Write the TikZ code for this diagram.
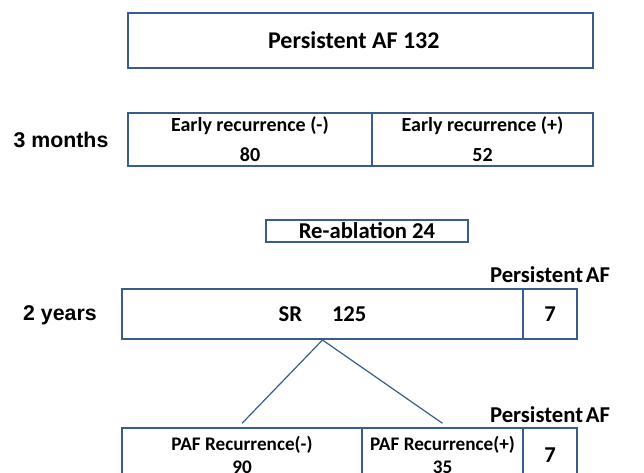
\documentclass[tikz,border=0pt]{standalone}
\usepackage{fontspec}
\setmainfont{Carlito}
\newfontfamily\arialfont{Liberation Sans}
\definecolor{boxblue}{RGB}{56,93,138}
\begin{document}
\begin{tikzpicture}[x=0.75pt,y=-0.75pt,
	  cell/.style={draw=boxblue, line width=1.5pt, inner sep=0pt, align=center},
	  big/.style={font=\bfseries\fontsize{17}{20}\selectfont},
	  small/.style={font=\bfseries\fontsize{15}{22.5}\selectfont},
	  paf/.style={font=\bfseries\fontsize{14.4}{17.25}\selectfont},
	  time/.style={font=\arialfont\bfseries\fontsize{16}{19}\selectfont}]
	  \useasboundingbox (0,0) rectangle (644,473);
	  \clip (0,0) rectangle (644,473);

	  \node [cell, font=\bfseries\fontsize{18}{21}\selectfont, minimum width=348.75pt, minimum height=41.25pt] (start) at (360.5,40.5) {Persistent AF 132\hspace*{10pt}};

	  \node [time] (months) at (61,140) {3 months};
	  \node [cell, small, minimum width=183pt, minimum height=39.75pt] (earlyneg) at (250,139.5) {Early recurrence (-)\\80};
	  \node [cell, small, minimum width=165.75pt, minimum height=39.75pt] (earlypos) at (482.5,139.5) {Early recurrence (+)\\52};

	  \node [cell, big, line width=1.2pt, minimum width=151.5pt, minimum height=16.5pt] (reabl) at (367,231) {Re-ablation 24};

	  \node [time] (years) at (60,315) {2 years};
	  \node [big] (afone) at (550,275) {Persistent\hspace{2pt}AF};
	  \node [cell, big, minimum width=300.75pt, minimum height=37.5pt] (sr) at (322.5,314) {SR\hspace{22.5pt}125};
	  \node [cell, big, minimum width=40.5pt, minimum height=37.5pt] (sraf) at (550,314) {7};

	  \node [big] (aftwo) at (550,415) {Persistent\hspace{2pt}AF};
	  \node [cell, paf, minimum width=180pt, minimum height=40pt] (pafneg) at (242,455) {PAF Recurrence(-)\\90};
	  \node [cell, paf, minimum width=120.75pt, minimum height=40pt] (pafpos) at (442.5,455) {PAF Recurrence(+)\\35};
	  \node [cell, big, minimum width=40.5pt, minimum height=40pt] (pafaf) at (550,455) {7};

	  \draw [boxblue, line width=0.9pt] (sr.south) -- ([yshift=3]pafneg.north);
	  \draw [boxblue, line width=0.9pt] (sr.south) -- ([yshift=3]pafpos.north);
	\end{tikzpicture}
\end{document}
